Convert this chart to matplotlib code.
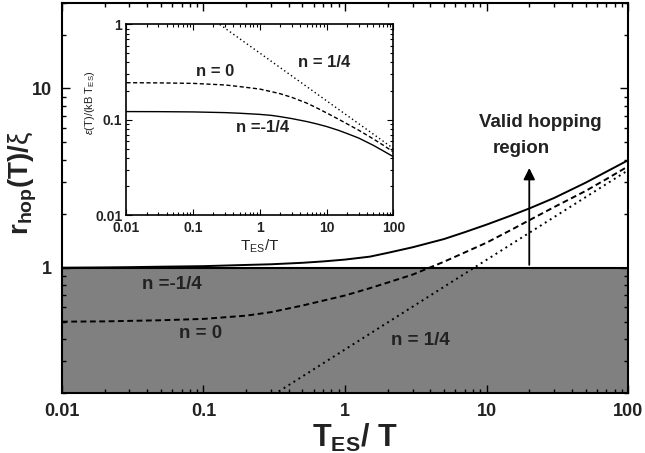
import numpy as np
import matplotlib
matplotlib.use('Agg')
import matplotlib.pyplot as plt

plt.rcParams['font.family'] = ['Liberation Sans', 'DejaVu Sans']
plt.rcParams['mathtext.fontset'] = 'custom'
plt.rcParams['mathtext.rm'] = 'Liberation Sans'
plt.rcParams['mathtext.bf'] = 'Liberation Sans:bold'
plt.rcParams['mathtext.it'] = 'Liberation Sans:italic'

# main panel: r_hop/xi vs T_ES/T
x_main = [0.01, 0.02, 0.03, 0.05, 0.1, 0.2, 0.3, 0.5, 0.7, 1, 1.5, 2, 3, 5, 7,
          10, 15, 20, 30, 50, 70, 100]
r_nm14 = [1.00, 1.0035, 1.007, 1.013, 1.02, 1.036, 1.045, 1.065, 1.084, 1.11, 1.153,
          1.21, 1.30, 1.445, 1.578, 1.74, 1.959, 2.14, 2.45, 2.98, 3.43, 3.98]
r_n0 = [0.500, 0.5017, 0.505, 0.509, 0.518, 0.540, 0.565, 0.615, 0.655, 0.70, 0.769,
        0.826, 0.915, 1.08, 1.216, 1.38, 1.63, 1.84, 2.18, 2.68, 3.12, 3.68]
x_dot = [0.34, 1, 3, 10, 30, 100]
r_n14 = [0.204, 0.35, 0.606, 1.107, 1.917, 3.50]

# inset: eps(T)/(kB T_ES)
x_in = [0.01, 0.03, 0.1, 0.3, 0.5, 1, 1.5, 2, 3, 5, 7, 10, 15, 20, 30, 50, 70, 100]
e_nm14 = [0.122, 0.1218, 0.121, 0.119, 0.1172, 0.114, 0.1112, 0.108, 0.103, 0.096,
          0.0908, 0.085, 0.0776, 0.072, 0.0645, 0.054, 0.0473, 0.041]
e_n0 = [0.245, 0.244, 0.241, 0.232, 0.223, 0.210, 0.197, 0.188, 0.172, 0.150,
        0.134, 0.118, 0.1016, 0.091, 0.078, 0.063, 0.0543, 0.046]
x_in_dot = [0.25, 1, 10, 100]
e_n14 = [1.0, 0.5, 0.158, 0.05]

txt = '#222222'
fig = plt.figure(figsize=(6.45, 4.53), dpi=100)
ax = fig.add_axes([0.096, 0.1325, 0.878, 0.861])

ax.axhspan(0.2, 1.0, color='#808080', zorder=0)
ax.axhline(1.0, color='k', lw=1.5, zorder=1)
ax.plot(x_main, r_nm14, color='k', lw=1.4, ls='-')
ax.plot(x_main, r_n0, color='k', lw=1.4, ls=(0, (3, 1.8)))
ax.plot(x_dot, r_n14, color='k', lw=1.4, ls=(0, (1, 2)))
ax.annotate('', xy=(20, 3.73), xytext=(20, 1.0),
            arrowprops=dict(arrowstyle='-|>', color='k', lw=1.3, mutation_scale=17))

ax.set_xscale('log')
ax.set_yscale('log')
ax.set_xlim(0.01, 100)
ax.set_ylim(0.2, 30)
ax.set_xticks([0.01, 0.1, 1, 10, 100])
ax.set_xticklabels(['0.01', '0.1', '1', '10', '100'])
ax.set_yticks([1, 10])
ax.set_yticklabels(['1', '10'])
ax.yaxis.set_minor_formatter(matplotlib.ticker.NullFormatter())
ax.tick_params(which='both', direction='in', top=True, right=True, width=1.0)
ax.tick_params(which='major', length=6, labelsize=13, pad=7, labelcolor=txt)
ax.tick_params(which='minor', length=3)
for lab in ax.get_xticklabels() + ax.get_yticklabels():
    lab.set_fontweight('bold')
for s in ax.spines.values():
    s.set_linewidth(1.5)

ax.set_xlabel(r'$\mathbf{T_{ES}/\ T}$', fontsize=22, color=txt)
ax.xaxis.set_label_coords(0.518, -0.075)
ax.set_ylabel(r'$\mathbf{r_{hop}(T)/}\mathrm{\xi}$', fontsize=20, color=txt)
ax.yaxis.set_label_coords(-0.04, 0.54)

ax.text(0.06, 0.81, 'n =-1/4', fontsize=13.5, fontweight='bold', color=txt, ha='center', va='center')
ax.text(0.095, 0.43, 'n = 0', fontsize=13.5, fontweight='bold', color=txt, ha='center', va='center')
ax.text(3.4, 0.39, 'n = 1/4', fontsize=13.5, fontweight='bold', color=txt, ha='center', va='center')
ax.text(23.9, 6.49, 'Valid hopping', fontsize=13.5, fontweight='bold', color=txt,
        ha='center', va='center')
ax.text(17.5, 4.61, 'region', fontsize=13.5, fontweight='bold', color=txt,
        ha='center', va='center')

# inset
ai = fig.add_axes([0.196, 0.525, 0.414, 0.421])
ai.plot(x_in, e_nm14, color='k', lw=1.0, ls='-')
ai.plot(x_in, e_n0, color='k', lw=1.0, ls=(0, (3, 1.8)))
ai.plot(x_in_dot, e_n14, color='k', lw=1.0, ls=(0, (1, 2)))
ai.set_xscale('log')
ai.set_yscale('log')
ai.set_xlim(0.01, 100)
ai.set_ylim(0.01, 1)
ai.set_xticks([0.01, 0.1, 1, 10, 100])
ai.set_xticklabels(['0.01', '0.1', '1', '10', '100'])
ai.set_yticks([0.01, 0.1, 1])
ai.set_yticklabels(['0.01', '0.1', '1'])
ai.yaxis.set_minor_formatter(matplotlib.ticker.NullFormatter())
ai.xaxis.set_minor_formatter(matplotlib.ticker.NullFormatter())
ai.tick_params(which='both', direction='in', top=True, right=True, width=0.8)
ai.tick_params(which='major', length=4, labelsize=10, pad=3, labelcolor=txt)
ai.tick_params(axis='x', which='major', pad=4)
ai.tick_params(which='minor', length=2)
for lab in ai.get_xticklabels() + ai.get_yticklabels():
    lab.set_fontweight('bold')
for s in ai.spines.values():
    s.set_linewidth(1.2)
ai.set_xlabel(r'$\mathrm{T_{ES}/T}$', fontsize=11, color=txt, labelpad=2)
ai.set_ylabel(r'$\varepsilon\mathrm{(T)/(kB\ T_{ES})}$', fontsize=8, color=txt)
ai.yaxis.set_label_coords(-0.11, 0.59)
ai.text(0.21, 0.32, 'n = 0', fontsize=12, fontweight='bold', color=txt, ha='center', va='center')
ai.text(1.1, 0.084, 'n =-1/4', fontsize=12, fontweight='bold', color=txt, ha='center', va='center')
ai.text(9.1, 0.40, 'n = 1/4', fontsize=12, fontweight='bold', color=txt, ha='center', va='center')

fig.savefig('out.png', dpi=100)
